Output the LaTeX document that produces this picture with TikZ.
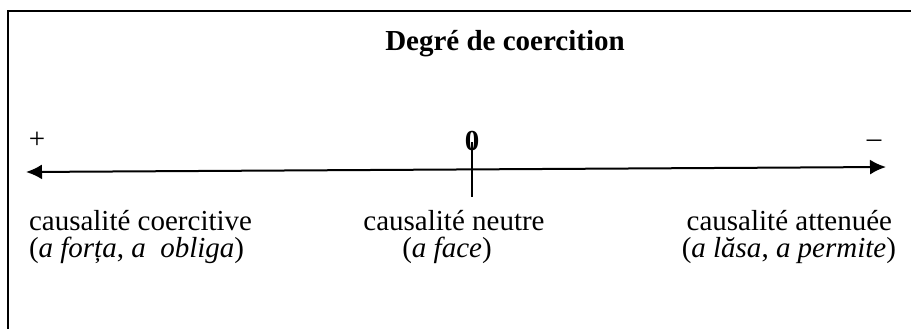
\documentclass[tikz,border=0pt]{standalone}
\usepackage{fontspec}
\setmainfont{Liberation Serif}
\usetikzlibrary{arrows.meta}
\tikzset{lbl/.style={inner sep=0pt,font=\fontsize{14.5}{14.5}\selectfont}}
\begin{document}
\begin{tikzpicture}[x=0.5pt,y=0.5pt,line width=1pt]
	\useasboundingbox (0,0) rectangle (911,328);
	\clip (0,0) rectangle (911,328);
	\draw (8,-10) -- (8,317) -- (925,317);
	\node[lbl,anchor=base,font=\fontsize{14.5}{14.5}\selectfont\bfseries] (title) at (505,278) {Degré de coercition};
	\coordinate (left) at (26,156); \coordinate (right) at (886,161);
	\coordinate (ticktop) at (472,186); \coordinate (tickbot) at (472,131);
	\draw[{Latex[length=8pt,width=7.5pt]}-{Latex[length=8pt,width=7.5pt]}] (left) -- (right);
	\draw (ticktop) -- (tickbot);
	\node[lbl] (plus) at (37,188) {+}; \node[lbl,anchor=base,font=\fontsize{14.5}{14.5}\selectfont\bfseries] (zero) at (472,178) {0};
	\node[lbl] (minus) at (874,184) {–};
	% labels under the axis
	\node[lbl,anchor=base west] (coerc) at (28,98) {causalité coercitive};
	\node[lbl,anchor=base west] (coercex) at (28,71) {(\textit{a forța}, \textit{a}\ \ \textit{obliga})};
	\node[lbl,anchor=base] (neutre) at (454,98) {causalité neutre};
	\node[lbl,anchor=base] (neutreex) at (447,71) {(\textit{a face})};
	\node[lbl,anchor=base east] (att) at (893,98) {causalité attenuée};
	\node[lbl,anchor=base east] (attex) at (897,71) {(\textit{a lăsa}, \textit{a permite})};
\end{tikzpicture}
\end{document}
